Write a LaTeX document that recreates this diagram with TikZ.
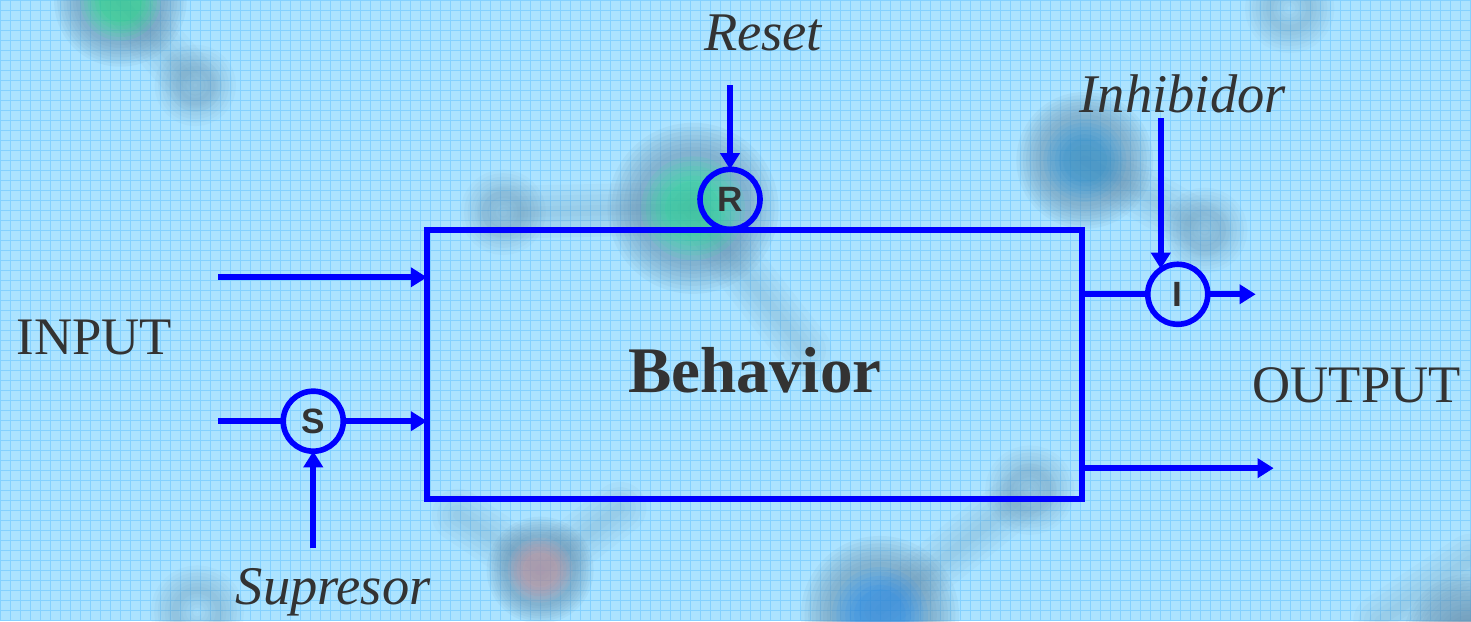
\documentclass[tikz,border=0pt]{standalone}
\usepackage{fontspec}
\setmainfont{Liberation Serif}
\setsansfont{Liberation Sans}
\usetikzlibrary{arrows.meta,positioning}
\definecolor{paper}{RGB}{172,227,255}
\definecolor{gridline}{RGB}{132,209,255}
\definecolor{wire}{RGB}{0,0,255}
\definecolor{ink}{RGB}{51,51,51}
\definecolor{atom}{RGB}{100,140,170}
\tikzset{blk/.style={draw=wire, line width=1.6pt, minimum width=6.55cm, minimum height=2.69cm, outer sep=0}}
\tikzset{gate/.style={circle, draw=wire, line width=1.6pt, minimum size=0.6cm, inner sep=0, outer sep=0, font=\sffamily\bfseries\fontsize{10}{10}\selectfont, text=ink}}
\tikzset{arr/.style={draw=wire, line width=1.6pt, -{Triangle[length=4.6pt,width=5.4pt]}}}
\tikzset{wirel/.style={draw=wire, line width=1.6pt}}
\tikzset{lbl/.style={text=ink, font=\itshape\fontsize{15.5}{16}\selectfont}}
\tikzset{io/.style={text=ink, font=\fontsize{15}{16}\selectfont}}
% blurred atoms and bonds, built from stacked faint layers
\newcommand\ball[3]{
    \foreach \k in {0,...,7}
        \fill[atom, opacity=0.085] (#1) circle ({#2*(0.72+0.05*\k)});
    \foreach \k in {0,...,5}
        \fill[#3, opacity=0.08] (#1) circle ({#2*(0.35+0.06*\k)});
}
\newcommand\ringatom[2]{
    \foreach \w in {2,4,...,14}
        \draw[atom, opacity=0.055, line width=\w pt] (#1) circle (#2);
}
\newcommand\bond[2]{
    \foreach \w in {3,6,...,15}
        \draw[atom, opacity=0.05, line width=\w pt, line cap=round] (#1) -- (#2);
}

\begin{document}
\begin{tikzpicture}[x=0.01cm, y=-0.01cm]
    % paper with grid
    \fill[paper] (0,0) rectangle (1471,621);
    \draw[gridline, line width=0.25pt, step=0.1cm] (0,0) grid (1471,621);
    \useasboundingbox (0,0) rectangle (1471,621);

    % blurred molecules behind
    \bond{120,0}{195,85}
    \bond{693,208}{503,212}
    \bond{693,208}{805,350}
    \bond{1085,160}{1205,230}
    \bond{1030,490}{880,610}
    \bond{540,570}{458,515}
    \bond{540,570}{620,508}
    \bond{1471,560}{1380,621}
    \ball{120,0}{62}{green!60!cyan}
    \ringatom{195,85}{16}
    \ball{693,208}{80}{green!50!cyan}
    \ringatom{503,212}{18}
    \ball{1085,160}{64}{cyan!70!blue}
    \ringatom{1205,230}{18}
    \ringatom{1290,8}{20}
    \ringatom{1030,490}{20}
    \ball{880,615}{74}{blue!50!cyan}
    \ball{540,570}{50}{red!40!white}
    \ringatom{197,612}{22}
    \ball{1470,640}{62}{atom}

    % main block and gates
    \node[blk] (beh) at (754.5,364.5) {};
    \node[text=ink, font=\bfseries\fontsize{18.5}{20}\selectfont] (behtxt) at (755,370) {Behavior};
    \node[gate] (R) at (730,199) {R};
    \node[gate] (S) at (313,421) {S};
    \node[gate] (I) at (1178,294) {I};

    % labels
    \node[io] (input) at (94,337) {INPUT};
    \node[io] (output) at (1357,385) {OUTPUT};
    \node[lbl] (reset) at (763,33) {Reset};
    \node[lbl] (inhib) at (1183,93) {Inhibidor};
    \node[lbl] (supr) at (333,592) {Supresor};

    % loose ends of the wires
    \coordinate (in1) at (218,277);
    \coordinate (in2) at (218,421);
    \coordinate (rs) at (730,85);
    \coordinate (ih) at (1161,118);
    \coordinate (sp) at (313,548);
    \coordinate (out1) at (1256,294);
    \coordinate (out2) at (1274,468);

    \draw[arr] (in1) -- (in1 -| beh.west);
    \draw[wirel] (in2) -- (S.west);
    \draw[arr] (S.east) -- (S.east -| beh.west);
    \draw[arr] (sp) -- (S.south);
    \draw[arr] (rs) -- (R.north);
    \draw[arr] (ih) -- (ih |- I.122);
    \draw[wirel] (I.west -| beh.east) -- (I.west);
    \draw[arr] (I.east) -- (out1);
    \draw[arr] (out2 -| beh.east) -- (out2);
\end{tikzpicture}
\end{document}
